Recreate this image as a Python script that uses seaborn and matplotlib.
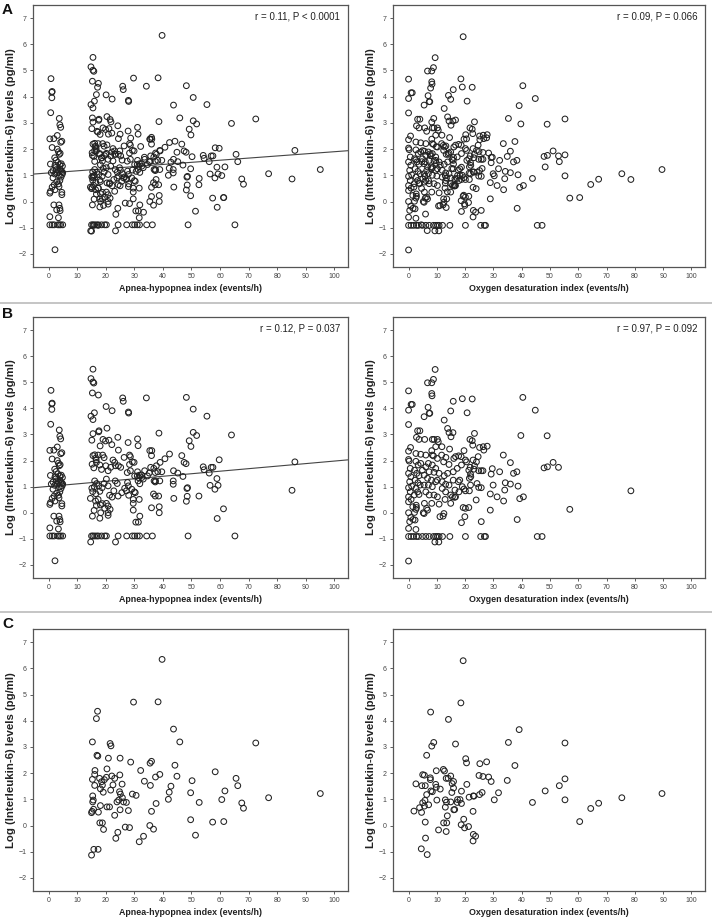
import matplotlib
matplotlib.use('Agg')
import matplotlib.pyplot as plt
import seaborn as sns
import pandas as pd
from matplotlib.lines import Line2D

# ---- data: (index, log IL-6) pairs ----
# group B, AHI panel
b_ahi = [
    (0.8, 4.69), (1.1, 4.17), (1.2, 4.2), (1.1, 3.96), (0.7, 3.39), (3.7, 3.17), (3.9, 2.93), (4.2, 2.83),
    (3.0, 2.52), (0.4, 2.39), (1.8, 2.4), (4.6, 2.3), (4.2, 2.26), (1.2, 2.06), (3.0, 2.0), (3.4, 1.9),
    (4.0, 1.84), (3.7, 1.8), (2.1, 1.67), (2.6, 1.58), (3.2, 1.49), (0.6, 1.43), (2.2, 1.38), (3.9, 1.41),
    (4.4, 1.44), (4.8, 1.35), (1.5, 1.18), (2.7, 1.22), (3.4, 1.16), (4.2, 1.18), (4.6, 1.14), (0.9, 1.1),
    (2.1, 1.05), (3.7, 0.99), (4.7, 1.03), (4.3, 0.93), (3.9, 0.8), (3.4, 0.67), (1.2, 0.55), (1.9, 0.64),
    (0.6, 0.39), (0.4, 0.32), (2.2, 0.45), (4.6, 0.35), (4.6, 0.26), (3.6, 0.57), (1.8, -0.13), (3.6, -0.13),
    (2.8, -0.32), (3.9, -0.26), (4.0, -0.35), (3.4, -0.62), (0.4, -0.58), (0.4, -0.89), (1.2, -0.89),
    (1.9, -0.89), (3.2, -0.89), (3.7, -0.89), (4.2, -0.89), (4.9, -0.89), (2.2, -1.84), (2.5, 1.3),
    (3.0, 1.1), (4.0, 1.25), (1.5, 0.9), (4.9, 1.1), (2.8, 0.75),
    (14.8, 5.14), (15.5, 5.5), (15.5, 5.01), (15.8, 4.97), (15.3, 4.59), (17.4, 4.51), (20.1, 4.07),
    (25.9, 4.4), (26.1, 4.27), (34.2, 4.4), (22.2, 3.91), (14.8, 3.7), (16.0, 3.83), (15.5, 3.57),
    (27.9, 3.86), (28.0, 3.82), (15.5, 3.03), (17.6, 3.14), (17.5, 3.1), (20.4, 3.24), (38.6, 3.05),
    (15.1, 2.78), (19.0, 2.81), (19.9, 2.75), (21.1, 2.78), (22.1, 2.61), (24.2, 2.89), (24.4, 2.4),
    (27.8, 2.69), (31.1, 2.83), (31.3, 2.57), (18.0, 2.56), (15.5, 2.19), (16.1, 2.22), (16.5, 2.1),
    (16.6, 2.03), (17.3, 2.21), (18.9, 2.21), (19.4, 2.11), (15.2, 1.86), (15.8, 1.72), (16.7, 1.93),
    (17.9, 1.83), (18.5, 1.66), (20.0, 1.8), (20.8, 1.61), (21.7, 1.74), (22.5, 2.02), (23.1, 1.93),
    (23.4, 1.8), (24.4, 1.8), (25.2, 1.74), (26.4, 2.12), (28.3, 2.21), (28.6, 2.15), (29.3, 1.95),
    (29.9, 1.93), (28.3, 1.85), (27.5, 1.54), (28.6, 1.61), (30.1, 1.41), (31.1, 1.57), (31.8, 1.44),
    (32.5, 1.45), (33.6, 1.61), (34.6, 1.41), (35.2, 1.52), (35.4, 2.38), (36.1, 2.38), (36.0, 2.19),
    (35.7, 1.74), (36.8, 1.7), (37.3, 1.54), (37.3, 1.18), (36.9, 1.22), (37.4, 1.22), (38.2, 1.57),
    (39.0, 1.93), (39.6, 1.57), (38.9, 1.22), (40.7, 2.07), (42.3, 2.25), (43.7, 1.61), (43.6, 1.22),
    (43.6, 1.09), (45.2, 1.52), (47.0, 1.39), (46.6, 2.19), (47.4, 1.93), (48.1, 1.88), (48.2, 4.42),
    (50.6, 3.97), (50.6, 3.08), (51.8, 2.96), (49.2, 2.76), (49.8, 2.54), (55.4, 3.7), (64.0, 2.98),
    (54.1, 1.76), (54.4, 1.65), (56.2, 1.52), (56.9, 1.74), (57.5, 1.74), (58.9, 1.31), (59.3, 1.05),
    (59.7, 2.03), (56.5, 1.05), (58.2, 0.9), (52.6, 0.64), (48.4, 0.93), (48.6, 0.96), (48.2, 0.44),
    (48.5, 0.63), (43.8, 0.55), (61.2, 0.15), (59.0, -0.22), (65.2, -0.89), (48.8, -0.89), (86.2, 1.95),
    (85.2, 0.86), (15.1, 0.94), (15.4, 0.81), (14.6, 0.55), (16.0, 0.99), (16.5, 0.73), (16.8, 1.12),
    (16.1, 1.22), (17.5, 1.03), (17.9, 0.82), (17.3, 0.51), (18.7, 0.96), (19.4, 1.12), (20.2, 1.29),
    (20.8, 1.03), (21.3, 0.67), (22.2, 0.6), (22.8, 0.84), (23.3, 1.22), (24.0, 1.12), (24.3, 0.64),
    (25.6, 0.77), (26.6, 0.94), (27.2, 0.84), (27.9, 1.03), (29.1, 0.9), (30.0, 0.8), (28.0, 0.67),
    (27.6, 1.16), (31.3, 1.22), (31.0, 1.41), (31.5, 1.34), (31.9, 1.11), (32.6, 1.35), (33.1, 1.29),
    (36.7, 0.72), (37.3, 0.64), (38.5, 0.64), (37.7, 1.8), (29.6, 0.51), (29.6, 0.36), (30.3, 0.77),
    (31.7, 0.51), (29.6, 0.1), (30.5, -0.36), (31.4, -0.36), (31.9, -0.13), (36.0, 0.19), (38.7, 0.23),
    (38.7, 0.0), (16.4, 0.45), (15.9, 0.09), (15.3, -0.13), (16.7, 0.28), (18.1, 0.3), (18.2, 0.0),
    (18.8, 0.35), (19.6, 0.17), (20.2, 0.36), (20.8, 0.0), (20.8, 0.26), (21.5, 0.13), (17.9, -0.21),
    (20.8, -0.1), (15.0, -0.89), (15.5, -0.89), (16.1, -0.89), (16.8, -0.89), (17.4, -0.89), (18.5, -0.89),
    (19.6, -0.89), (20.2, -0.89), (24.3, -0.89), (27.3, -0.89), (29.3, -0.89), (30.1, -0.89), (31.0, -0.89),
    (31.8, -0.89), (34.3, -0.89), (36.3, -0.89), (14.7, -1.12), (23.4, -1.12),
]

# group B, ODI panel
b_odi = [
    (0.0, 4.67), (0.0, 3.93), (0.9, 4.15), (1.3, 4.15), (0.0, 3.38), (0.0, 2.36), (0.0, 2.04), (0.2, 1.98),
    (0.7, 2.5), (0.0, 1.51), (0.4, 1.19), (0.0, 0.96), (0.0, 0.61), (0.0, 0.42), (0.0, 0.0), (0.4, -0.34),
    (0.0, -0.6), (0.0, -0.91), (0.0, -1.85), (0.6, 1.7), (0.8, 1.38), (1.1, 1.02), (0.6, 0.8), (0.9, 0.51),
    (1.5, 0.23), (0.8, -0.18), (1.6, -0.26), (0.9, -0.91), (1.8, -0.91), (2.8, -0.91), (3.5, -0.91),
    (4.9, -0.91), (2.6, 2.27), (2.8, 2.89), (3.2, 3.14), (4.0, 3.14), (3.7, 2.81), (4.3, 2.24), (2.6, 1.97),
    (3.4, 1.83), (2.1, 1.63), (2.9, 1.51), (3.7, 1.42), (4.3, 1.89), (4.9, 1.63), (2.3, 1.25), (3.3, 1.15),
    (4.1, 1.06), (2.6, 0.93), (3.2, 0.8), (3.7, 0.7), (2.0, 0.68), (2.7, 0.29), (2.8, 0.2), (2.6, 0.13),
    (2.1, 0.01), (2.3, -0.28), (2.6, -0.64), (5.5, 3.68), (5.7, 2.81), (6.7, 4.98), (8.2, 4.98), (8.8, 5.11),
    (9.4, 5.49), (8.2, 4.57), (8.3, 4.48), (6.9, 4.04), (7.3, 3.81), (7.5, 3.81), (8.4, 2.81), (9.0, 2.81),
    (10.2, 2.81), (10.5, 2.72), (9.6, 2.53), (8.2, 2.38), (6.1, 2.21), (8.4, 2.21), (8.8, 2.18), (10.2, 2.08),
    (7.0, 1.89), (8.4, 1.83), (9.6, 1.7), (6.1, 1.76), (7.3, 1.57), (5.5, 1.44), (9.0, 1.55), (10.8, 1.51),
    (6.7, 1.32), (8.1, 1.25), (9.6, 1.19), (5.5, 1.06), (7.0, 1.06), (8.4, 1.0), (10.2, 1.25), (6.1, 0.8),
    (7.3, 0.68), (9.0, 0.68), (10.2, 0.61), (5.6, 0.36), (6.4, 0.17), (6.7, 0.1), (5.2, 0.0), (5.5, -0.03),
    (8.2, 0.36), (10.8, 0.33), (6.1, -0.91), (7.3, -0.91), (8.8, -0.91), (9.6, -0.91), (10.2, -0.91),
    (10.8, -0.91), (12.0, -0.91), (9.3, -1.12), (10.7, -1.12), (11.1, -0.15), (12.2, -0.13), (12.5, -0.03),
    (12.6, 3.55), (13.8, 3.23), (14.3, 3.07), (15.7, 3.07), (15.0, 2.91), (14.9, 3.9), (15.8, 4.27),
    (19.0, 4.37), (22.5, 4.36), (20.7, 3.83), (11.8, 2.53), (11.7, 2.21), (12.4, 1.95), (13.2, 2.12),
    (14.5, 2.44), (16.0, 2.08), (14.3, 1.85), (16.6, 2.15), (17.7, 2.18), (18.6, 2.15), (19.6, 2.38),
    (20.1, 2.02), (20.5, 1.95), (18.7, 1.83), (17.2, 1.7), (15.8, 1.57), (13.8, 1.51), (12.6, 1.42),
    (11.9, 1.19), (13.1, 1.09), (14.3, 1.06), (15.8, 1.25), (17.6, 1.19), (18.1, 1.25), (19.0, 1.0),
    (16.4, 0.87), (17.8, 0.8), (19.6, 0.91), (20.1, 0.84), (11.9, 0.93), (13.1, 0.8), (12.9, 0.51),
    (14.9, 0.68), (15.5, 0.61), (16.3, 0.59), (16.6, 0.61), (14.9, 0.36), (19.3, 0.2), (20.1, 0.17),
    (18.7, -0.38), (19.9, -0.15), (14.6, -0.91), (20.1, -0.91), (21.3, 0.2), (21.5, 0.84), (21.9, 1.06),
    (21.5, 1.32), (22.0, 1.38), (21.9, 1.48), (21.3, 1.63), (21.8, 1.74), (23.1, 1.67), (22.8, 2.02),
    (23.3, 1.8), (24.0, 1.95), (24.6, 2.15), (25.1, 2.5), (26.6, 2.4), (26.4, 2.53), (27.8, 2.55),
    (21.7, 2.81), (22.5, 2.76), (22.7, 2.59), (23.3, 3.04), (24.8, 1.61), (25.7, 1.61), (26.3, 1.61),
    (24.2, 1.12), (24.8, 0.97), (25.7, 0.96), (23.9, 0.49), (25.7, -0.34), (25.5, -0.91), (26.8, -0.91),
    (27.2, -0.91), (29.2, 1.48), (29.6, 1.69), (29.9, 1.06), (28.9, 0.72), (28.9, 0.1), (31.3, 0.61),
    (32.2, 1.57), (33.5, 2.21), (33.6, 0.45), (34.2, 1.15), (34.0, 0.87), (36.0, 1.92), (36.0, 1.1),
    (37.1, 1.51), (38.3, 1.57), (38.7, 1.02), (39.3, 0.54), (40.6, 0.61), (38.4, -0.26), (39.7, 2.96),
    (40.4, 4.42), (44.8, 3.93), (49.0, 2.95), (47.9, 1.72), (49.1, 1.76), (51.1, 1.93), (53.0, 1.74),
    (45.5, -0.91), (47.2, -0.91), (57.0, 0.13), (78.6, 0.84),
]

# group C, AHI panel
c_ahi = [
    (39.7, 6.34), (29.7, 4.71), (38.3, 4.72), (17.1, 4.36), (16.7, 4.08), (43.7, 3.68), (45.9, 3.19),
    (72.5, 3.15), (15.3, 3.19), (21.5, 3.13), (21.8, 3.04), (16.9, 2.68), (17.2, 2.65), (20.9, 2.57),
    (25.0, 2.57), (28.7, 2.42), (35.5, 2.38), (36.0, 2.45), (44.2, 2.3), (16.2, 2.1), (16.1, 1.95),
    (32.2, 2.1), (20.4, 2.16), (38.9, 1.95), (37.4, 1.85), (44.9, 1.88), (50.2, 1.71), (58.3, 2.05),
    (65.6, 1.8), (66.2, 1.52), (33.5, 1.69), (35.6, 1.53), (42.8, 1.5), (15.3, 1.76), (16.1, 1.53),
    (17.8, 1.8), (18.5, 1.67), (18.8, 1.54), (19.5, 1.75), (20.2, 1.84), (22.1, 1.89), (23.1, 1.8),
    (24.9, 1.93), (25.7, 1.58), (22.5, 1.55), (21.7, 1.35), (18.1, 1.4), (19.1, 1.27), (24.8, 1.29),
    (25.1, 1.2), (25.8, 1.06), (26.2, 0.9), (23.9, 0.9), (24.5, 0.97), (27.2, 0.88), (29.3, 1.2),
    (30.6, 1.15), (27.9, 0.57), (25.0, 0.6), (15.4, 1.13), (15.6, 0.97), (15.4, 0.9), (15.7, 0.62),
    (15.2, 0.54), (15.0, 0.49), (17.4, 0.51), (18.1, 0.76), (20.4, 0.71), (21.3, 0.71), (23.1, 0.39),
    (17.9, 0.1), (18.8, 0.1), (19.2, -0.15), (26.8, -0.06), (28.3, -0.08), (24.2, -0.26), (23.5, -0.49),
    (33.2, -0.41), (31.7, -0.62), (35.4, 0.0), (36.7, -0.14), (36.0, 0.54), (37.6, 0.84), (41.9, 1.0),
    (42.2, 1.27), (49.7, 1.25), (49.7, 0.22), (51.4, -0.37), (52.7, 0.88), (57.4, 0.13), (61.3, 0.15),
    (60.6, 0.99), (61.7, 1.32), (67.6, 0.86), (68.2, 0.66), (77.0, 1.06), (95.1, 1.22), (15.8, -0.91),
    (17.3, -0.91), (15.0, -1.13),
]

# group C, ODI panel
c_odi = [
    (19.3, 6.29), (18.5, 4.68), (7.8, 4.33), (14.1, 4.05), (39.1, 3.66), (35.3, 3.17), (55.3, 3.15),
    (8.9, 3.17), (8.2, 3.03), (16.6, 3.11), (6.4, 2.68), (20.2, 2.55), (20.5, 2.39), (25.2, 2.36),
    (27.6, 2.43), (37.6, 2.29), (2.6, 1.59), (5.0, 1.94), (5.6, 1.92), (4.7, 1.52), (5.9, 1.52), (9.8, 2.09),
    (12.3, 2.14), (12.7, 2.08), (7.7, 1.82), (7.7, 1.75), (13.3, 1.8), (14.0, 1.8), (14.9, 1.89),
    (15.9, 1.68), (15.4, 1.6), (9.6, 1.57), (9.8, 1.46), (7.9, 1.32), (8.4, 1.29), (11.2, 1.39), (15.9, 1.43),
    (15.3, 1.26), (18.7, 1.31), (20.6, 1.57), (24.9, 1.91), (26.3, 1.87), (28.3, 1.85), (29.2, 1.68),
    (25.1, 1.18), (26.0, 1.26), (21.4, 1.08), (22.9, 1.13), (34.9, 1.72), (30.3, 0.98), (31.8, 1.25),
    (48.3, 1.32), (53.3, 1.52), (55.3, 1.78), (55.3, 0.98), (43.8, 0.88), (64.4, 0.65), (67.2, 0.85),
    (75.4, 1.06), (89.6, 1.22), (60.5, 0.15), (1.9, 0.55), (3.9, 0.68), (4.6, 0.5), (5.0, 0.87), (5.6, 0.74),
    (5.8, 0.96), (6.4, 1.18), (7.1, 0.79), (10.0, 0.97), (5.9, 0.13), (6.0, -0.48), (4.5, -0.89),
    (6.6, -1.11), (10.6, -0.17), (12.4, 0.1), (13.5, 0.1), (13.3, -0.23), (13.7, 0.37), (13.0, 0.7),
    (13.0, 0.98), (13.4, 0.89), (14.9, 0.9), (16.0, 0.6), (16.3, 0.61), (17.3, 0.99), (18.2, 0.99),
    (17.2, 0.88), (18.7, 0.84), (18.6, 0.03), (19.8, -0.09), (19.5, 0.24), (21.2, -0.04), (22.8, 0.54),
    (22.8, -0.59), (22.9, -0.34), (23.7, -0.41), (23.1, 1.12),
]

# fitted lines (intercept, slope)
fit_a = (1.09, 0.0081)
fit_b = (1.01, 0.0097)

stats_a = ['r = 0.11, P < 0.0001', 'r = 0.09, P = 0.066']
stats_b = ['r = 0.12, P = 0.037', 'r = 0.97, P = 0.092']

x_labels = ['Apnea-hypopnea index (events/h)', 'Oxygen desaturation index (events/h)']
y_label = 'Log (Interleukin-6) levels (pg/ml)'
panel_letters = ['A', 'B', 'C']


def to_df(points):
    return pd.DataFrame(points, columns=['x', 'y'])


rows = [
    (to_df(b_ahi + c_ahi), to_df(b_odi + c_odi), fit_a, stats_a),
    (to_df(b_ahi), to_df(b_odi), fit_b, stats_b),
    (to_df(c_ahi), to_df(c_odi), None, None),
]

sns.set_style('white')
plt.rcParams['font.family'] = ['Liberation Sans', 'DejaVu Sans']

W, H = 712, 919
fig = plt.figure(figsize=(W / 100, H / 100), dpi=100)

# axes boxes in pixels: (top, bottom) per row, (left, right) per column
row_tops = [(5, 267), (317, 578), (629, 891)]
col_lr = [(33, 348), (393, 705)]
letter_y = [3, 307, 617]

for r, (df_ahi, df_odi, fit, stats) in enumerate(rows):
    top, bottom = row_tops[r]
    for c, df in enumerate([df_ahi, df_odi]):
        left, right = col_lr[c]
        ax = fig.add_axes([left / W, 1 - bottom / H, (right - left) / W, (bottom - top) / H])
        sns.scatterplot(data=df, x='x', y='y', ax=ax, marker='o', s=17,
                        facecolor='none', edgecolor='#222222', linewidth=0.75, zorder=3)
        ax.set_xlim(-5.5, 104.8)
        ax.set_ylim(-2.5, 7.5)
        ax.set_xticks(range(0, 101, 10))
        ax.set_yticks(range(-2, 8))
        ax.tick_params(axis='both', labelsize=5, colors='#444444', length=2.5, width=0.6,
                       direction='out', pad=2)
        ax.tick_params(left=True, bottom=True)
        for sp in ax.spines.values():
            sp.set_color('#555555')
            sp.set_linewidth(0.9)
        ax.set_xlabel(x_labels[c], fontsize=6.4, fontweight='bold', color='#222222', labelpad=3)
        ax.set_ylabel(y_label, fontsize=8.2, fontweight='bold', color='#222222', labelpad=2)
        if fit is not None and c == 0:
            x0, x1 = ax.get_xlim()
            ax.plot([x0, x1], [fit[0] + fit[1] * x0, fit[0] + fit[1] * x1],
                    color='#444444', linewidth=0.8, zorder=2)
        if stats is not None:
            ax.text(0.975, 0.955, stats[c], transform=ax.transAxes, ha='right', va='center',
                    fontsize=7, color='#222222')
    fig.text(2 / W, 1 - letter_y[r] / H, panel_letters[r], ha='left', va='top',
             fontsize=11, fontweight='bold', color='#111111')

# separator lines between rows
for y in (303, 612):
    fig.add_artist(Line2D([0, 1], [1 - y / H, 1 - y / H], color='#bbbbbb', linewidth=1.2))

fig.savefig('out.png', dpi=100)
